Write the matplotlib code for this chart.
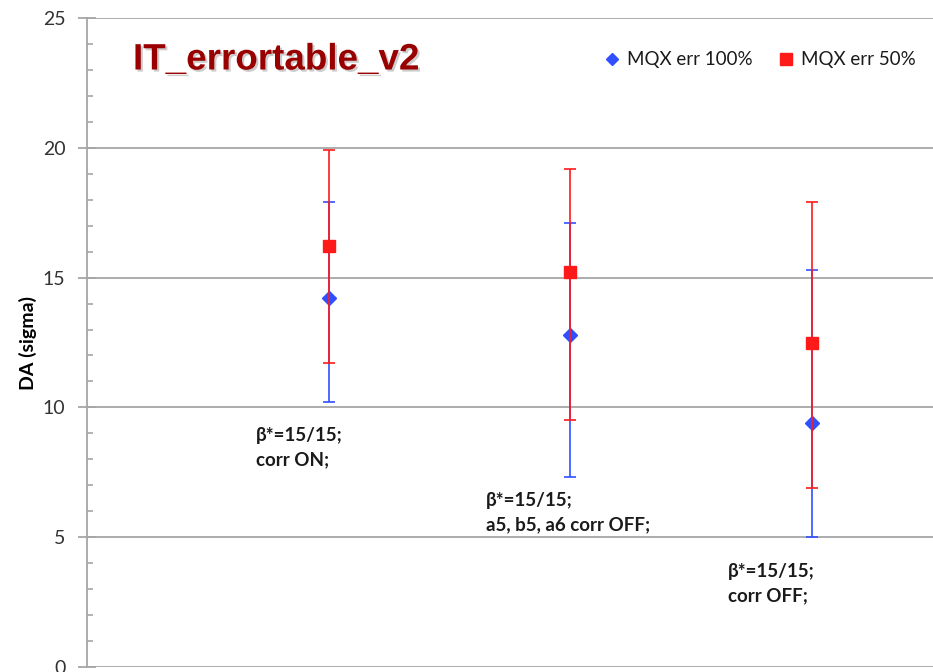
import matplotlib
matplotlib.use('Agg')
import matplotlib.pyplot as plt
import matplotlib.patheffects as pe
from matplotlib.lines import Line2D
from matplotlib.ticker import MultipleLocator

# data
cases = [1, 2, 3]
blue_da = [14.2, 12.8, 9.4]
blue_lo = [10.2, 7.3, 5.0]
blue_hi = [17.9, 17.1, 15.3]
red_da = [16.2, 15.2, 12.5]
red_lo = [11.7, 9.5, 6.9]
red_hi = [19.9, 19.2, 17.9]
case_labels = ['\u03b2*=15/15;\ncorr ON;',
               '\u03b2*=15/15;\na5, b5, a6 corr OFF;',
               '\u03b2*=15/15;\ncorr OFF;']
label_x = [0.7, 1.65, 2.65]
label_y = [9.25, 6.75, 4.0]

plt.rcParams['font.family'] = ['Lato', 'DejaVu Sans']

fig = plt.figure(figsize=(9.33, 6.72), dpi=100)
ax = fig.add_axes([87/933, 5/672, 1 - 87/933, 649/672])

grid_c = '#a6a6a6'
ax.set_xlim(0, 3.5)
ax.set_ylim(0, 25)
ax.yaxis.set_major_locator(MultipleLocator(5))
ax.yaxis.set_minor_locator(MultipleLocator(1))
ax.grid(axis='y', color=grid_c, lw=1.3, zorder=0)
ax.set_axisbelow(True)
for s in ['top', 'right', 'bottom']:
    ax.spines[s].set_visible(False)
ax.spines['left'].set_color(grid_c)
ax.spines['left'].set_linewidth(1.3)
ax.set_xticks([])
ax.tick_params(axis='y', which='major', direction='inout', length=13,
               color=grid_c, width=1.3, labelsize=14, labelcolor='#333333', pad=9)
ax.tick_params(axis='y', which='minor', direction='in', length=4,
               color=grid_c, width=1.2)

blue = '#3050ff'
red = '#ff1a1a'
b_err = [[d - l for d, l in zip(blue_da, blue_lo)], [h - d for d, h in zip(blue_da, blue_hi)]]
r_err = [[d - l for d, l in zip(red_da, red_lo)], [h - d for d, h in zip(red_da, red_hi)]]
ax.errorbar(cases, blue_da, yerr=b_err, fmt='D', color=blue, ms=7, ecolor=blue,
            elinewidth=1.2, capsize=4, capthick=1.2, zorder=3)
ax.errorbar(cases, red_da, yerr=r_err, fmt='s', color=red, ms=9, ecolor=red,
            elinewidth=1.2, capsize=4, capthick=1.2, zorder=4)

for x, y, t in zip(label_x, label_y, case_labels):
    ax.text(x, y, t, fontsize=13.5, fontweight='bold', color='#1a1a1a',
            ha='left', va='top', linespacing=1.5)

ax.set_ylabel('DA (sigma)', fontsize=14, fontweight='bold', labelpad=4)

handles = [Line2D([], [], ls='none', marker='D', color=blue, ms=6),
           Line2D([], [], ls='none', marker='s', color=red, ms=8)]
leg = ax.legend(handles, ['MQX err 100%', 'MQX err 50%'], loc='upper right',
                bbox_to_anchor=(1.0, 0.975), ncol=2, frameon=False, fontsize=13.5,
                handlelength=1.0, handletextpad=0.3, columnspacing=1.3)
for t in leg.get_texts():
    t.set_color('#1a1a1a')

fig.text(133/933, 1 - 60/672, 'IT_errortable_v2', fontsize=26.5, fontweight='bold',
         family='Liberation Sans', color='#990000', va='center', ha='left',
         path_effects=[pe.withSimplePatchShadow(offset=(1.5, -1.5), shadow_rgbFace='gray', alpha=0.4)])

fig.savefig('out.png', dpi=100)
